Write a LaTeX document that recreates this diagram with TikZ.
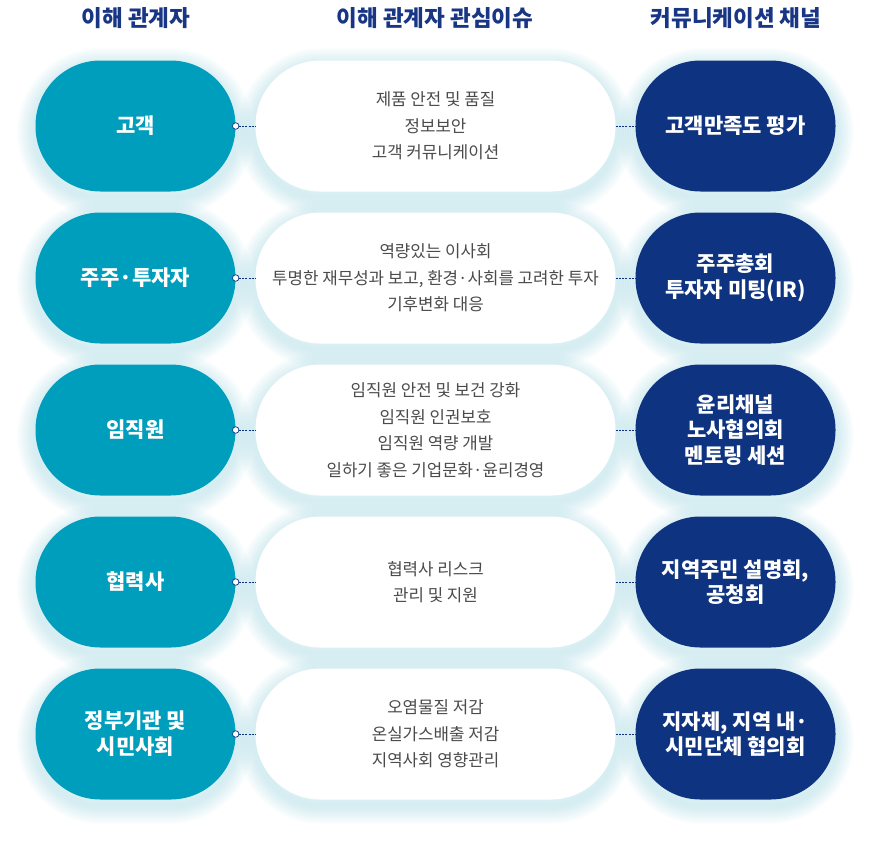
\documentclass[tikz,border=0pt]{standalone}
\usepackage{fontspec}
\setmainfont{Noto Sans CJK KR}
\usetikzlibrary{shapes,calc}
\definecolor{tealc}{RGB}{0,158,189}
\definecolor{navyc}{RGB}{14,51,128}
\definecolor{headc}{RGB}{24,54,132}
\definecolor{greyc}{RGB}{75,75,75}
\definecolor{glowc}{RGB}{120,195,210}
\tikzset{
  halo/.style={preaction={draw=glowc, line width=#1, draw opacity=0.05,
    transform canvas={yshift=-6pt}}},
  pill/.style={rounded corners=65pt, minimum height=131pt, inner sep=0pt, align=center,
    halo=36pt, halo=31pt, halo=26pt, halo=21pt, halo=16pt, halo=11pt, halo=6pt},
  holder/.style={pill, fill=tealc, minimum width=200pt, text=white,
    font=\fontsize{21}{26}\selectfont\bfseries},
  issue/.style={pill, fill=white, minimum width=360pt, text=greyc,
    font=\fontsize{16.8}{26.5}\selectfont},
  channel/.style={pill, fill=navyc, minimum width=200pt, text=white,
    font=\fontsize{21}{25.5}\selectfont\bfseries},
  head/.style={text=headc, font=\fontsize{22.5}{24}\selectfont\bfseries},
  link/.style={navyc, thin, dash pattern=on 2pt off 1.2pt},
  dot/.style={circle, draw=navyc, fill=white, line width=0.7pt, minimum size=6.5pt, inner sep=0pt}
}
\begin{document}
\begin{tikzpicture}[x=1pt, y=-1pt]
    \useasboundingbox (0,0) rectangle (872,844);
    % Column titles
    \node[head] (h1) at (136,18) {이해 관계자};
    \node[head] (h2) at (435,18) {이해 관계자 관심이슈};
    \node[head] (h3) at (736,18) {커뮤니케이션 채널};
    % Stakeholders
    \node[holder] (s1) at (135.5,126) {고객};
    \node[holder] (s2) at (135.5,278) {주주·투자자};
    \node[holder] (s3) at (135.5,430) {임직원};
    \node[holder] (s4) at (135.5,582) {협력사};
    \node[holder] (s5) at (135.5,734) {정부기관 및\\시민사회};
    % Issues
    \node[issue] (i1) at (435.5,126) {제품 안전 및 품질\\정보보안\\고객 커뮤니케이션};
    \node[issue] (i2) at (435.5,278) {역량있는 이사회\\투명한 재무성과 보고, 환경·사회를 고려한 투자\\기후변화 대응};
    \node[issue] (i3) at (435.5,430) {임직원 안전 및 보건 강화\\임직원 인권보호\\임직원 역량 개발\\일하기 좋은 기업문화·윤리경영};
    \node[issue] (i4) at (435.5,582) {협력사 리스크\\관리 및 지원};
    \node[issue] (i5) at (435.5,734) {오염물질 저감\\온실가스배출 저감\\지역사회 영향관리};
    % Channels
    \node[channel] (c1) at (735.5,126) {고객만족도 평가};
    \node[channel] (c2) at (735.5,278) {주주총회\\투자자 미팅(IR)};
    \node[channel] (c3) at (735.5,430) {윤리채널\\노사협의회\\멘토링 세션};
    \node[channel] (c4) at (735.5,582) {지역주민 설명회,\\공청회};
    \node[channel] (c5) at (735.5,734) {지자체, 지역 내·\\시민단체 협의회};
    % Links
    \draw[link] (s1.east) -- (i1.west);
    \draw[link] (i1.east) -- (c1.west);
    \draw[link] (s2.east) -- (i2.west);
    \draw[link] (i2.east) -- (c2.west);
    \draw[link] (s3.east) -- (i3.west);
    \draw[link] (i3.east) -- (c3.west);
    \draw[link] (s4.east) -- (i4.west);
    \draw[link] (i4.east) -- (c4.west);
    \draw[link] (s5.east) -- (i5.west);
    \draw[link] (i5.east) -- (c5.west);
    % Mark link ends
    \node[dot] (d1) at (s1.east) {};
    \node[dot] (d2) at (s2.east) {};
    \node[dot] (d3) at (s3.east) {};
    \node[dot] (d4) at (s4.east) {};
    \node[dot] (d5) at (s5.east) {};
\end{tikzpicture}
\end{document}
